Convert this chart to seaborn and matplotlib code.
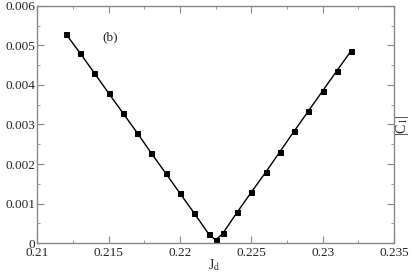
import numpy as np
import pandas as pd
import seaborn as sns
import matplotlib
matplotlib.use("Agg")
import matplotlib.pyplot as plt
from matplotlib.ticker import MultipleLocator, FuncFormatter

jd = [0.212, 0.213, 0.214, 0.215, 0.216, 0.217, 0.218, 0.219, 0.220, 0.221, 0.222,
      0.2225, 0.223, 0.224, 0.225, 0.226, 0.227, 0.228, 0.229, 0.230, 0.231, 0.232]
c1 = [0.00529, 0.00480, 0.00430, 0.00379, 0.00329, 0.00279, 0.00227, 0.00177, 0.00126, 0.00076, 0.00024,
      0.00008, 0.00025, 0.00078, 0.00129, 0.00179, 0.00231, 0.00283, 0.00334, 0.00385, 0.00436, 0.00486]

df = pd.DataFrame({"Jd": jd, "C1": c1})

sns.set_style("ticks")
plt.rcParams['font.family'] = ['Liberation Serif', 'DejaVu Serif']
plt.rcParams['mathtext.fontset'] = 'stix'

fig = plt.figure(figsize=(4.15, 2.77), dpi=100)
ax = fig.add_axes([0.0899, 0.1217, 0.8595, 0.8577])

sns.lineplot(data=df, x="Jd", y="C1", ax=ax, color="black", linewidth=1.0,
             marker="s", markersize=3.6, markeredgecolor="black", markerfacecolor="black")

ax.set_xlim(0.21, 0.235)
ax.set_ylim(0, 0.006)
ax.xaxis.set_major_locator(MultipleLocator(0.005))
ax.xaxis.set_minor_locator(MultipleLocator(0.0025))
ax.yaxis.set_major_locator(MultipleLocator(0.001))
ax.yaxis.set_minor_locator(MultipleLocator(0.0005))

def fmt(v, pos):
    if abs(v) < 1e-12:
        return "0"
    s = ("%.4f" % v).rstrip("0").rstrip(".")
    return s
ax.xaxis.set_major_formatter(FuncFormatter(fmt))
ax.yaxis.set_major_formatter(FuncFormatter(fmt))

ax.tick_params(which="both", direction="in", top=True, right=True, labelsize=9.5,
               color="#888888")
ax.tick_params(axis="x", pad=3)
ax.tick_params(axis="y", pad=1.5)
ax.tick_params(which="major", length=5)
ax.tick_params(which="minor", length=2.5)
for s in ax.spines.values():
    s.set_color("#888888")
    s.set_linewidth(1.0)

ax.set_xlabel("")
ax.set_ylabel("")
fig.text(214 / 415, 1 - 265 / 277, r"J$_{\rm d}$", ha="center", va="center", fontsize=10)
fig.text(402 / 415, 1 - 125 / 277, r"|C$_1$|", ha="center", va="center", fontsize=10, rotation=90)
ax.text(0.2151, 0.00519, "(b)", ha="center", va="center", fontsize=9.5)

fig.savefig("out.png", dpi=100)
